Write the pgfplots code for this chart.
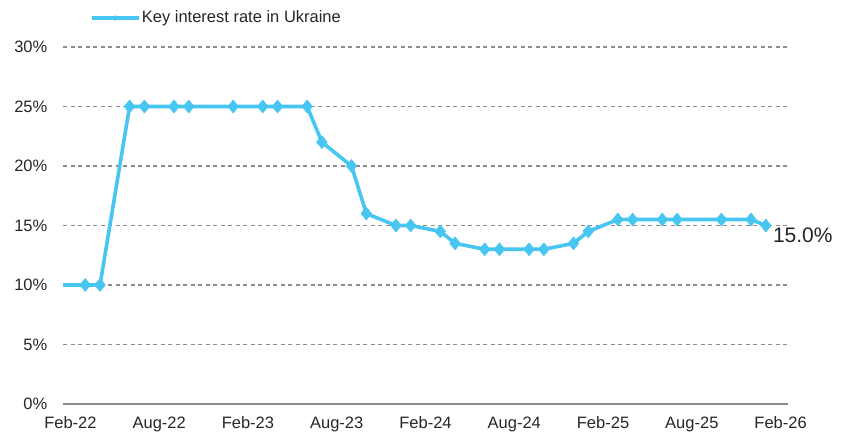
\documentclass[border=0pt]{standalone}
\usepackage{pgfplots}
\pgfplotsset{compat=1.18}
\usepackage{fontspec}
\setmainfont{Liberation Sans}
\definecolor{kblue}{HTML}{48C6F2}
\definecolor{gridgray}{HTML}{8C8C8C}
\begin{document}
\fontsize{16.5bp}{20bp}\selectfont
\begin{tikzpicture}
\useasboundingbox (0,0) rectangle (849bp,439bp);
\begin{axis}[
  at={(63bp,35bp)}, anchor=south west,
  scale only axis, width=725bp, height=357bp,
  xmin=-0.5, xmax=48.5, ymin=0, ymax=30,
  xtick={0,6,...,48},
  xticklabels={Feb-22,Aug-22,Feb-23,Aug-23,Feb-24,Aug-24,Feb-25,Aug-25,Feb-26},
  ytick={0,5,...,30},
  yticklabel={\pgfmathprintnumber{\tick}\%},
  /pgf/number format/.cd, fixed, precision=0, assume math mode=true, /pgfplots/.cd,
  major tick length=0pt,
  axis x line*=bottom, axis y line*=left,
  x axis line style={draw=gridgray, line width=1.4bp, -},
  y axis line style={draw=none},
  ymajorgrids,
  grid style={dash pattern=on 4bp off 3.5bp, gridgray, line width=1.3bp},
  tick label style={font=\fontsize{16.5bp}{20bp}\selectfont, text=black!85},
  yticklabel style={xshift=-10bp},
  xticklabel style={yshift=-7bp},
  clip=true,
  legend style={at={(0.0372,1.081)}, anchor=west, draw=none, fill=none,
    inner sep=0pt, font=\fontsize{16.5bp}{20bp}\selectfont,
    nodes={inner sep=1.5bp, text=black!85}},
  legend image code/.code={\draw[#1,line width=3.2bp,mark size=2.5bp,mark indices={2}] plot coordinates {(0bp,0bp) (23.5bp,0bp) (47bp,0bp)};},
]
\addplot[color=kblue, line width=3.6bp, mark=diamond*, mark size=6.5bp,
  mark options={solid, fill=kblue, draw=kblue, line width=0.5bp, xscale=1.1},
  mark indices={1,...,31}]
coordinates {
(-1,10)(1,10)(2,10)(4,25)(5,25)(7,25)(8,25)(11,25)(13,25)(14,25)(16,25)
(17,22)(19,20)(20,16)(22,15)(23,15)(25,14.5)(26,13.5)(28,13)(29,13)(31,13)(32,13)
(34,13.5)(35,14.5)(37,15.5)(38,15.5)(40,15.5)(41,15.5)(44,15.5)(46,15.5)(47,15)
};
\addlegendentry{Key interest rate in Ukraine}
\coordinate (lastpt) at (axis cs:47,15);
\end{axis}
\node[anchor=north west, inner sep=0pt, xshift=7bp, yshift=-2bp,
  font=\fontsize{21bp}{24bp}\selectfont, text=black!85] at (lastpt) {15.0\%};
\end{tikzpicture}
\end{document}
